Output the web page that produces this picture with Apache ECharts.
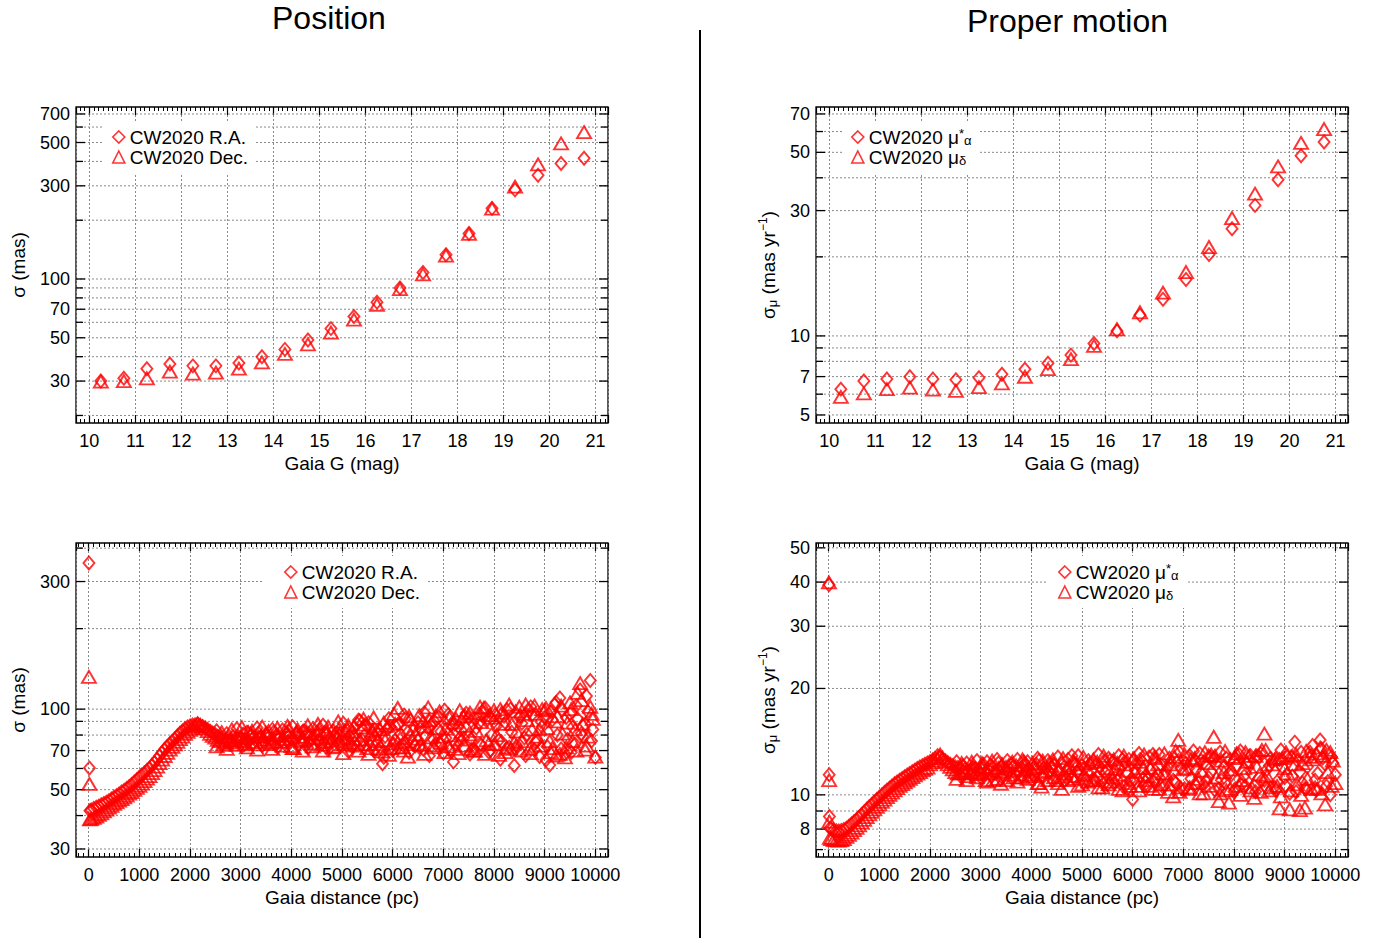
<!DOCTYPE html>
<html><head><meta charset="utf-8">
<script src="https://cdn.jsdelivr.net/npm/echarts@6/dist/echarts.min.js"></script>
<style>html,body{margin:0;padding:0;background:#fff}#c{width:1393px;height:938px}</style>
</head><body><div id="c"></div>
<script>
// ---------- data ----------
const G_MAG = [10.25,10.75,11.25,11.75,12.25,12.75,13.25,13.75,14.25,14.75,15.25,15.75,16.25,16.75,17.25,17.75,18.25,18.75,19.25,19.75,20.25,20.75];
const TL_RA  = [30.0,31.0,34.7,36.7,35.9,35.9,37.1,40.0,43.6,48.7,55.7,64.3,76.1,89.9,108,133,171,230,286,340,390,415];
const TL_DEC = [29.8,30.0,31.0,33.5,32.8,33.1,34.7,37.4,41.3,46.3,53.2,62.0,73.8,88.8,105.7,131.9,170,229,297,386,495,565];
const TR_PMRA  = [6.27,6.74,6.85,6.99,6.85,6.81,6.93,7.15,7.47,7.87,8.45,9.35,10.45,12.0,13.8,16.4,20.4,25.6,31.4,39.3,48.5,54.7];
const TR_PMDEC = [5.86,6.04,6.27,6.36,6.24,6.18,6.38,6.59,6.99,7.47,8.15,9.16,10.6,12.3,14.6,17.5,21.8,28.1,34.8,44.2,54.3,61.3];

// distance samples (three interleaved sets)
const DIST = [25,100,200,300,400,500,600,700,800,900,1000,1100,1200,1300,1400,1500,1600,1700,1800,1900,2000,
  2100,2200,2300,2400,2500,2600,2700,2800,2900,3000,3100,3200,3300,3400,3500,3600,3700,3800,3900,4000,
  4100,4200,4300,4400,4500,4600,4700,4800,4900,5000,5100,5200,5300,5400,5500,5600,5700,5800,5900,6000,
  6100,6200,6300,6400,6500,6600,6700,6800,6900,7000,7100,7200,7300,7400,7500,7600,7700,7800,7900,8000,
  8100,8200,8300,8400,8500,8600,8700,8800,8900,9000,9100,9200,9300,9400,9500,9600,9700,9800,9900,10000];
const DIST2 = [50,150,250,350,450,550,650,750,850,950,1050,1150,1250,1350,1450,1550,1650,1750,1850,1950,
  2050,2150,2250,2350,2450,2550,2650,2750,2850,2950,3050,3150,3250,3350,3450,3550,3650,3750,3850,3950,
  4050,4150,4250,4350,4450,4550,4650,4750,4850,4950,5050,5150,5250,5350,5450,5550,5650,5750,5850,5950,
  6050,6150,6250,6350,6450,6550,6650,6750,6850,6950,7050,7150,7250,7350,7450,7550,7650,7750,7850,7950,
  8050,8150,8250,8350,8450,8550,8650,8750,8850,8950,9050,9150,9250,9350,9450,9550,9650,9750,9850,9950];
const DIST3 = [2525,2625,2725,2825,2925,3025,3125,3225,3325,3425,3525,3625,3725,3825,3925,4025,4125,4225,4325,4425,
  4525,4625,4725,4825,4925,5025,5125,5225,5325,5425,5525,5625,5725,5825,5925,6025,6125,6225,6325,6425,
  6525,6625,6725,6825,6925,7025,7125,7225,7325,7425,7525,7625,7725,7825,7925,8025,8125,8225,8325,8425,
  8525,8625,8725,8825,8925,9025,9125,9225,9325,9425,9525,9625,9725,9825,9925];
const BL_RA = [41.7,42.5,43.4,44.4,45.5,46.8,48.2,49.7,51.4,53.4,55.6,57.8,60.2,63.2,66.8,70.8,74.2,77.5,81.2,84.5,86.6,
  87.5,86.8,85.2,82.6,80.4,78.4,77.2,76.8,77.5,78.2,
  77.0,79.5,76.4,78.8,80.2,77.1,79.4,76.2,80.5,78.0,81.2,76.5,79.8,77.6,82.0,74.0,80.6,77.0,81.5,75.5,
  83.5,72.5,88.0,76.5,86.0,74.0,81.0,62.5,84.5,70.0,87.5,73.5,82.0,75.0,89.0,71.0,85.0,77.0,93.0,68.5,
  95.5,63.5,86.0,78.0,92.5,71.0,88.5,97.0,69.0,90.0,76.5,94.0,72.0,61.5,93.5,
  78.0,99.0,70.5,66.5,93.0,61.8,104.0,110.0,68.0,96.0,74.0,118.0,88.0,128.0,66.0];
const BL_RA2 = [42.0,43.0,43.9,44.9,46.1,47.5,49.0,50.5,52.3,54.5,56.7,59.0,61.7,65.0,68.8,72.5,75.8,79.3,82.8,85.8,
  87.2,88.0,86.2,84.0,81.4,79.2,77.5,76.0,79.0,76.5,80.5,75.5,78.0,81.5,75.8,78.5,82.2,77.8,74.8,79.0,
  76.8,80.0,83.0,75.0,78.6,76.2,81.8,73.5,79.8,84.0,76.0,79.5,74.5,90.5,80.0,77.5,83.5,72.0,79.0,86.0,
  76.5,80.5,92.0,78.5,73.0,84.5,79.5,87.0,74.0,82.5,78.0,87.0,74.5,83.5,96.5,77.5,85.0,73.5,90.5,80.0,
  86.5,75.5,99.5,82.0,73.0,88.5,80.5,95.0,76.0,86.0,72.5,91.0,80.0,99.0,77.0,85.5,92.0,79.0,98.0,84.0];
const BL_RA3 = [83.0,73.5,81.0,75.0,84.5,72.5,82.0,74.0,85.0,73.0,80.0,84.0,72.0,83.5,75.5,86.0,73.0,82.5,71.5,84.5,
  76.0,87.0,70.5,83.0,74.5,88.5,69.5,85.0,91.0,72.0,89.0,70.0,84.0,66.0,92.0,74.0,88.0,95.0,69.0,86.0,
  72.0,97.0,67.0,90.0,75.0,99.0,70.0,88.0,78.0,94.0,68.0,92.0,74.0,101.0,70.0,95.0,65.0,89.0,100.0,71.0,
  94.0,67.0,102.0,75.0,90.0,64.5,98.0,106.0,71.0,93.0,69.0,103.0,81.0,112.0,76.0];
const BL_DEC = [38.7,39.2,40.2,41.5,42.8,44.2,45.5,46.8,48.3,49.9,51.7,53.8,56.2,59.2,62.8,66.8,70.5,73.8,77.2,80.8,83.6,
  86.2,87.4,84.6,80.8,78.2,76.0,74.8,76.5,76.2,77.8,
  74.5,80.8,75.2,79.2,81.6,74.8,80.0,75.6,82.2,72.8,81.8,76.0,82.4,74.4,80.6,73.5,82.8,76.2,79.4,74.0,
  78.0,82.5,74.0,85.5,71.5,83.0,76.0,69.5,86.5,74.5,101.0,72.0,66.5,84.0,77.5,90.0,101.5,73.0,85.0,79.0,
  72.5,89.0,68.5,94.0,80.5,70.0,96.0,101.0,74.5,99.0,67.5,88.0,104.0,75.0,102.0,
  96.0,71.0,103.0,84.0,99.0,76.0,90.0,68.0,66.0,106.0,84.0,125.0,70.5,102.0,66.5];
const BL_DEC2 = [38.9,39.6,40.8,42.1,43.5,44.8,46.1,47.5,49.0,50.8,52.7,55.0,57.7,61.0,64.8,68.6,72.2,75.5,79.0,82.2,
  85.0,88.4,86.0,82.8,79.4,76.8,73.5,78.6,75.0,79.5,76.0,82.0,73.8,78.8,77.0,82.8,75.5,79.6,77.2,83.5,
  71.5,79.0,76.8,81.5,77.8,84.0,75.5,78.5,72.5,80.8,83.0,75.0,80.0,77.0,87.5,74.0,80.5,84.0,76.5,71.5,
  88.0,78.0,75.5,91.5,80.5,73.5,86.0,78.5,94.5,75.0,84.5,80.0,92.0,77.0,86.5,71.0,83.0,89.5,76.5,93.0,
  80.0,97.0,72.0,88.0,82.5,76.0,91.0,84.0,79.0,100.0,85.0,71.5,94.0,81.0,89.0,76.0,115.0,88.0,79.0,92.0];
const BL_DEC3 = [72.5,82.0,71.0,84.0,73.5,85.5,72.0,83.0,70.5,86.0,74.0,71.0,85.0,73.0,86.5,71.5,84.0,70.0,87.0,72.5,
  88.0,70.0,86.0,72.0,90.0,68.5,87.0,73.0,70.0,92.0,68.0,93.0,71.0,89.0,67.5,96.0,72.0,70.0,94.0,74.0,
  95.0,68.0,91.0,72.0,98.0,69.0,93.0,71.0,99.0,73.0,97.0,70.0,102.0,68.0,95.0,74.0,100.0,69.0,71.0,98.0,
  70.0,104.0,68.5,96.0,73.0,101.0,69.0,67.0,103.0,72.0,100.0,70.0,108.0,73.0,96.0];
const BR_PMRA = [8.05,7.95,7.9,7.98,8.15,8.4,8.65,8.95,9.25,9.55,9.85,10.15,10.45,10.75,11.0,11.25,11.5,11.75,12.0,12.2,12.4,
  12.7,12.8,12.5,12.2,12.0,11.9,11.85,11.8,11.9,11.85,
  11.6,12.1,11.5,12.0,11.7,12.2,11.4,11.9,12.1,11.5,12.2,11.3,11.9,12.0,11.2,12.3,11.1,12.9,11.6,12.1,
  10.9,12.3,11.2,11.8,10.7,12.4,11.0,12.6,10.4,9.7,12.2,11.1,10.6,13.0,11.4,10.5,12.0,11.0,12.5,10.3,
  11.9,13.3,10.8,12.3,11.2,12.7,10.4,12.0,11.5,10.2,13.0,11.3,12.4,10.6,12.8,
  11.0,12.1,10.5,12.6,11.2,10.1,14.1,11.6,10.4,13.2,11.0,14.3,12.2,10.0,11.4];
const BR_PMRA2 = [8.0,7.92,7.93,8.05,8.27,8.52,8.8,9.1,9.4,9.7,10.0,10.3,10.6,10.88,11.12,11.38,11.62,11.88,12.1,12.3,
  12.55,12.9,12.6,12.35,12.1,11.95,12.1,11.7,12.0,11.75,12.2,11.8,11.55,12.3,11.9,11.6,12.0,11.7,12.4,11.8,
  11.4,12.5,11.9,11.6,12.2,11.7,12.0,11.4,12.3,11.5,11.9,12.2,11.0,12.0,11.6,12.5,11.2,11.9,12.3,11.0,
  11.7,12.6,11.3,11.8,11.1,12.2,11.6,12.4,10.8,11.9,12.3,11.1,11.8,12.5,10.9,11.6,12.2,11.0,12.7,11.4,
  12.1,10.7,12.3,11.5,12.9,11.0,11.8,12.4,10.9,12.0,12.8,11.3,12.5,10.8,12.0,13.8,11.5,12.7,10.9,12.3];
const BR_PMRA3 = [12.4,11.2,12.3,11.3,12.5,11.1,12.4,11.3,12.6,11.2,12.5,11.1,12.6,11.3,12.4,11.0,12.7,11.2,12.5,11.0,
  12.8,10.9,12.6,11.2,12.9,10.8,12.5,11.1,13.0,10.7,12.7,10.8,12.9,10.5,12.6,11.0,13.1,10.6,12.8,10.9,
  13.0,10.6,12.7,10.9,13.2,10.4,12.9,10.7,13.1,10.5,12.8,10.3,13.2,10.8,12.6,10.4,13.3,10.6,12.9,10.2,
  13.1,10.5,12.7,10.3,13.4,10.6,12.8,10.2,13.2,10.4,12.9,10.3,13.5,10.6,12.8];
const BR_PMDEC = [7.55,7.45,7.42,7.5,7.7,7.95,8.2,8.5,8.8,9.1,9.4,9.7,10.0,10.3,10.6,10.85,11.1,11.35,11.6,11.85,12.2,
  12.5,13.0,12.4,12.0,11.6,11.5,11.55,11.6,11.5,11.6,
  11.0,11.9,11.7,10.75,12.0,11.4,12.1,11.2,11.8,11.3,12.0,10.55,11.7,12.1,11.0,10.4,11.9,11.3,12.2,10.7,
  11.8,11.0,12.4,10.5,11.9,11.2,12.3,10.3,11.7,12.6,10.6,11.9,11.3,10.4,12.2,11.5,10.2,9.9,14.3,11.8,
  10.4,12.5,11.1,10.1,12.9,14.6,9.6,11.6,9.5,12.7,10.6,11.9,12.9,9.8,11.4,
  14.9,10.3,12.6,9.15,11.9,9.1,12.2,9.05,9.2,12.8,10.5,13.6,9.4,13.2,10.8];
const BR_PMDEC2 = [7.5,7.43,7.44,7.6,7.82,8.07,8.35,8.65,8.95,9.25,9.55,9.85,10.15,10.45,10.72,10.98,11.22,11.48,11.72,11.95,
  12.35,12.7,12.75,12.2,11.8,11.5,11.7,11.3,11.8,11.45,12.0,11.5,11.0,11.9,11.6,12.1,11.2,11.7,12.2,11.4,
  11.9,10.8,11.6,12.3,11.2,11.8,11.5,12.1,11.1,11.9,11.4,12.3,11.0,11.7,12.5,10.9,11.8,11.4,12.2,10.6,
  11.6,12.4,11.0,11.9,12.7,10.7,11.5,12.2,13.3,10.5,11.9,12.6,10.8,11.7,12.3,13.0,11.2,12.5,10.3,11.8,
  13.1,11.0,12.4,10.5,12.0,13.4,11.3,12.2,10.6,12.7,11.5,12.9,10.7,12.3,11.1,12.6,10.4,12.9,11.6,12.5];
const BR_PMDEC3 = [11.1,12.3,11.0,12.4,11.2,12.3,10.9,12.5,11.1,12.2,11.0,12.4,10.9,12.6,11.1,12.3,10.8,12.5,11.0,12.6,
  10.8,12.7,11.0,12.5,10.6,12.8,10.9,12.6,10.5,12.9,10.7,12.6,10.4,12.9,10.8,12.7,10.3,13.0,10.6,12.8,
  10.4,13.1,10.7,12.8,10.2,13.0,10.5,12.7,10.1,13.2,10.6,12.9,10.1,13.3,10.4,12.8,10.0,13.2,10.3,12.9,
  10.2,13.4,10.5,12.7,9.9,13.2,10.3,13.0,10.0,13.3,10.4,13.1,10.1,13.4,10.6];
// nearby outliers
const OUT_DIST_BL = [5, 15];
const BL_RA_OUT  = [352, 60.2];
const BL_DEC_OUT = [132, 52.5];
const OUT_DIST_BR = [5, 10, 15];
const BR_PMRA_OUT  = [39.3, 11.4, 8.68];
const BR_PMDEC_OUT = [39.9, 11.0, 8.4];

// axis ranges and tick values
const X_MAG_RANGE = [9.71, 21.27];
const X_DIST_RANGE = [-250, 10250];
const Y_RANGE_TL = [18.3, 760];
const Y_RANGE_TR = [4.66, 74.4];
const Y_RANGE_BL = [28, 418];
const Y_RANGE_BR = [6.67, 51.6];
const Y_GRID_TL = [20,30,40,50,60,70,80,90,100,200,300,400,500,600,700];
const Y_LAB_TL  = [30,50,70,100,300,500,700];
const Y_GRID_TR = [5,6,7,8,9,10,20,30,40,50,60,70];
const Y_LAB_TR  = [5,7,10,30,50,70];
const Y_GRID_BL = [30,40,50,60,70,80,90,100,200,300,400];
const Y_LAB_BL  = [30,50,70,100,300];
const Y_GRID_BR = [7,8,9,10,20,30,40,50];
const Y_LAB_BR  = [8,10,20,30,40,50];

const N_RA = 'CW2020 R.A.', N_DEC = 'CW2020 Dec.', N_PMRA = 'CW2020 μα*', N_PMDEC = 'CW2020 μδ';

// ---------- styling ----------
const F = "'Liberation Sans', Arial, Helvetica, sans-serif";
const RED = '#ff0000';
const GRIDS = [
  {left:76, top:107, width:532, height:316},
  {left:816, top:107, width:532, height:316},
  {left:76, top:543, width:532, height:314},
  {left:816, top:543, width:532, height:314}
];
const RICH = {
  sb: {fontSize:13, lineHeight:8, verticalAlign:'bottom', fontFamily:F, color:'#000'},
  st: {fontSize:13, lineHeight:8, verticalAlign:'top', fontFamily:F, color:'#000'},
  sp: {fontSize:12, lineHeight:8, verticalAlign:'top', fontFamily:F, color:'#000'}
};
const LEG_TEXT = {};
LEG_TEXT[N_PMRA] = 'CW2020 μ{st|*}{sb|α}';
LEG_TEXT[N_PMDEC] = 'CW2020 μ{sb|δ}';

function xAxes(g, range, split, name) {
  const common = {type:'value', gridIndex:g, min:range[0], max:range[1], splitNumber:split,
    axisLine:{show:false},
    axisTick:{show:true, inside:true, length:8, lineStyle:{color:'#000', width:1.2}},
    minorTick:{show:true, splitNumber:10, length:4, lineStyle:{color:'#000', width:1}},
    minorSplitLine:{show:false}};
  return [
    Object.assign({}, common, {position:'bottom',
      splitLine:{show:true, lineStyle:{color:'#8a8a8a', width:1, type:[2,2]}},
      axisLabel:{show:true, margin:9, fontSize:18, color:'#000', fontFamily:F, showMinLabel:false, showMaxLabel:false,
        formatter: v => String(v)},
      name:name, nameLocation:'middle', nameGap:31, nameTextStyle:{fontSize:19, color:'#000', fontFamily:F}}),
    Object.assign({}, common, {position:'top', splitLine:{show:false}, axisLabel:{show:false}})
  ];
}
function yAxis(g, range, name, gap) {
  return {type:'log', logBase:10, gridIndex:g, min:range[0], max:range[1],
    axisLine:{show:false}, axisTick:{show:false}, axisLabel:{show:false}, splitLine:{show:false},
    minorTick:{show:false}, minorSplitLine:{show:false},
    name:name, nameLocation:'middle', nameGap:gap, nameRotate:90,
    nameTextStyle:{fontSize:19, color:'#000', fontFamily:F, lineHeight:22, rich:RICH}};
}
function yDecor(g, xr, grid, labels) {
  return {type:'custom', xAxisIndex:g*2, yAxisIndex:g, silent:true, z:1, animation:false,
    data: grid.map(v => [xr[0], v]),
    renderItem: function (params, api) {
      const v = api.value(1);
      const p0 = api.coord([xr[0], v]);
      const p1 = api.coord([xr[1], v]);
      const lab = labels.indexOf(v) >= 0;
      const L = lab ? 9 : 7;
      const ch = [
        {type:'line', shape:{x1:p0[0], y1:p0[1], x2:p1[0], y2:p1[1]}, style:{stroke:'#8a8a8a', lineWidth:1, lineDash:[2,2]}},
        {type:'line', shape:{x1:p0[0], y1:p0[1], x2:p0[0]+L, y2:p0[1]}, style:{stroke:'#000', lineWidth:1.3}},
        {type:'line', shape:{x1:p1[0]-L, y1:p1[1], x2:p1[0], y2:p1[1]}, style:{stroke:'#000', lineWidth:1.3}}
      ];
      if (lab) ch.push({type:'text', x:p0[0]-6, y:p0[1],
        style:{text:String(v), align:'right', verticalAlign:'middle', fontSize:18, fontFamily:F, fill:'#000'}});
      return {type:'group', children:ch};
    }};
}
function sc(name, g, xs, ys, sym) {
  return {type:'scatter', name:name, xAxisIndex:g*2, yAxisIndex:g, symbol:sym,
    symbolSize: sym === 'diamond' ? [11,13] : [14,12],
    itemStyle:{color:'rgba(255,0,0,0)', borderColor:RED, borderWidth:1.9},
    emphasis:{disabled:true}, silent:true, z:3, animation:false, large:false,
    data: xs.map((x,i) => [x, ys[i]])};
}
function legend(names, left, top, padL) {
  return {orient:'vertical', left:left, top:top, padding:[6,8,6,padL], itemGap:0, itemWidth:12, itemHeight:12,
    backgroundColor:'#fff', selectedMode:false, z:5,
    data:[{name:names[0], icon:'diamond'}, {name:names[1], icon:'triangle'}],
    itemStyle:{color:'rgba(255,0,0,0)', borderColor:RED, borderWidth:1.6},
    textStyle:{fontSize:19, color:'#000', fontFamily:F, lineHeight:20, rich:RICH},
    formatter: n => LEG_TEXT[n] || n};
}

const PM_NAME = 'σ{sb|μ} (mas yr{sp|−1})';
const option = {
  backgroundColor:'#fff',
  animation:false,
  title:[
    {text:'Position', left:272, top:2, padding:0, textStyle:{fontSize:32, lineHeight:32, fontWeight:'normal', color:'#000', fontFamily:F}},
    {text:'Proper motion', left:967, top:5, padding:0, textStyle:{fontSize:32, lineHeight:32, fontWeight:'normal', color:'#000', fontFamily:F}}
  ],
  grid: GRIDS.map(g => Object.assign({show:true, borderColor:'#000', borderWidth:1.3, backgroundColor:'rgba(0,0,0,0)'}, g)),
  xAxis: [].concat(
    xAxes(0, X_MAG_RANGE, 11, 'Gaia G (mag)'),
    xAxes(1, X_MAG_RANGE, 11, 'Gaia G (mag)'),
    xAxes(2, X_DIST_RANGE, 10, 'Gaia distance (pc)'),
    xAxes(3, X_DIST_RANGE, 10, 'Gaia distance (pc)')),
  yAxis: [
    yAxis(0, Y_RANGE_TL, 'σ (mas)', 47),
    yAxis(1, Y_RANGE_TR, PM_NAME, 37),
    yAxis(2, Y_RANGE_BL, 'σ (mas)', 47),
    yAxis(3, Y_RANGE_BR, PM_NAME, 37)
  ],
  legend: [
    legend([N_RA, N_DEC], 104, 121, 8),
    legend([N_PMRA, N_PMDEC], 843, 121, 8),
    legend([N_RA, N_DEC], 262, 556, 22),
    legend([N_PMRA, N_PMDEC], 1048, 556, 10)
  ],
  series: [
    yDecor(0, X_MAG_RANGE, Y_GRID_TL, Y_LAB_TL),
    yDecor(1, X_MAG_RANGE, Y_GRID_TR, Y_LAB_TR),
    yDecor(2, X_DIST_RANGE, Y_GRID_BL, Y_LAB_BL),
    yDecor(3, X_DIST_RANGE, Y_GRID_BR, Y_LAB_BR),
    sc(N_RA, 0, G_MAG, TL_RA, 'diamond'),
    sc(N_DEC, 0, G_MAG, TL_DEC, 'triangle'),
    sc(N_PMRA, 1, G_MAG, TR_PMRA, 'diamond'),
    sc(N_PMDEC, 1, G_MAG, TR_PMDEC, 'triangle'),
    sc(N_RA, 2, OUT_DIST_BL.concat(DIST, DIST2, DIST3), BL_RA_OUT.concat(BL_RA, BL_RA2, BL_RA3), 'diamond'),
    sc(N_DEC, 2, OUT_DIST_BL.concat(DIST, DIST2, DIST3), BL_DEC_OUT.concat(BL_DEC, BL_DEC2, BL_DEC3), 'triangle'),
    sc(N_PMRA, 3, OUT_DIST_BR.concat(DIST, DIST2, DIST3), BR_PMRA_OUT.concat(BR_PMRA, BR_PMRA2, BR_PMRA3), 'diamond'),
    sc(N_PMDEC, 3, OUT_DIST_BR.concat(DIST, DIST2, DIST3), BR_PMDEC_OUT.concat(BR_PMDEC, BR_PMDEC2, BR_PMDEC3), 'triangle')
  ],
  graphic: [
    {type:'line', shape:{x1:700, y1:30, x2:700, y2:938}, style:{stroke:'#000', lineWidth:2}, silent:true}
  ]
};
const chart = echarts.init(document.getElementById('c'), null, {renderer:'svg', width:1393, height:938});
chart.setOption(option);
</script>
</body></html>
